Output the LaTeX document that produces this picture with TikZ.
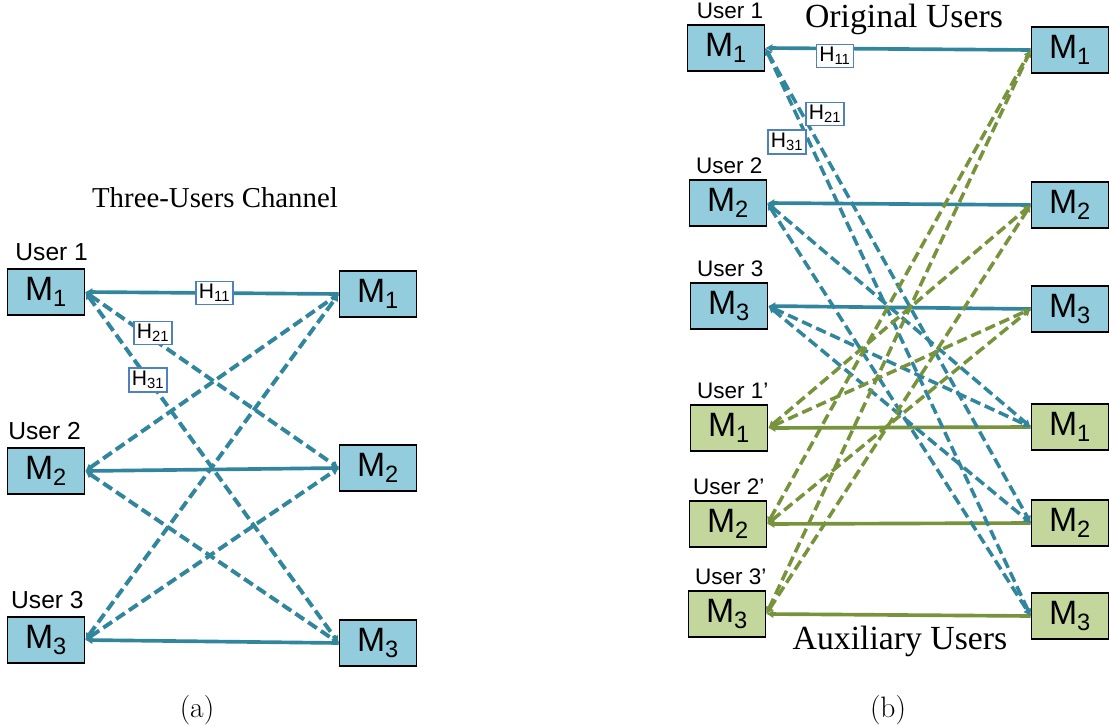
\documentclass[tikz,border=0pt]{standalone}
\usepackage{fontspec}
\newfontfamily\arialfont{Liberation Sans}
\newfontfamily\timesfont{Liberation Serif}
\usetikzlibrary{arrows.meta,positioning}
\definecolor{boxblue}{HTML}{93CDDD}
\definecolor{lineblue}{HTML}{31859C}
\definecolor{boxgreen}{HTML}{C3D69B}
\definecolor{linegreen}{HTML}{77933C}
\definecolor{labelblue}{HTML}{4F81BD}
\tikzset{
	msg/.style={draw=black, line width=1.1pt, minimum width=1.925cm, minimum height=1.15cm,
		inner sep=0pt, text=black, font=\arialfont\fontsize{24}{26}\selectfont},
	bluemsg/.style={msg, fill=boxblue},
	greenmsg/.style={msg, fill=boxgreen},
	usr/.style={anchor=south west, inner sep=0pt, font=\arialfont\fontsize{17.5}{19}\selectfont},
	usrb/.style={usr, font=\arialfont\fontsize{16}{18}\selectfont},
	gain/.style={draw=labelblue, line width=1pt, fill=white, inner sep=2pt, text=black,
		font=\arialfont\fontsize{15}{17}\selectfont},
	direct/.style={line width=2.6pt, {Latex[length=5pt,width=6pt]}-},
	cross/.style={line width=2.8pt, dash pattern=on 7.5pt off 3.5pt,
		{Latex[length=5pt,width=6pt]}-{Latex[length=5pt,width=6pt]}},
	crossb/.style={cross, line width=2.5pt},
	caption/.style={font=\timesfont\fontsize{24}{26}\selectfont},
	subcap/.style={font=\fontsize{21}{23}\selectfont},
}
\newcommand{\msub}[2]{#1\textsubscript{#2}}
\begin{document}
\begin{tikzpicture}[x=0.025cm,y=-0.025cm]
	\useasboundingbox (0,0) rectangle (1109,727);
%	\draw[gray!40] (0,0) grid[step=50] (1109,727);
	% (a) three users
	\node[caption, font=\timesfont\fontsize{20.5}{23}\selectfont] (title) at (215,198) {Three-Users Channel};
	\node[bluemsg] (a1) at (46,292) {\msub{M}{1}};
	\node[bluemsg] (a2) at (46,471) {\msub{M}{2}};
	\node[bluemsg] (a3) at (46,640) {\msub{M}{3}};
	\node[bluemsg] (b1) at (378,294) {\msub{M}{1}};
	\node[bluemsg] (b2) at (378,468) {\msub{M}{2}};
	\node[bluemsg] (b3) at (378,643) {\msub{M}{3}};
	\node[usr] (ua1) at ([xshift=6pt,yshift=5pt]a1.north west) {User 1};
	\node[usr] (ua2) at ([xshift=1pt,yshift=5pt]a2.north west) {User 2};
	\node[usr] (ua3) at ([xshift=3pt,yshift=5pt]a3.north west) {User 3};

	\draw[direct, lineblue] (a1.east) -- (b1.west) node[gain, pos=0.51] {\msub{H}{11}};
	\draw[direct, lineblue] (a2.east) -- (b2.west);
	\draw[direct, lineblue] (a3.east) -- (b3.west);
	\draw[cross, lineblue] (a1.east) -- (b2.west);
	\draw[cross, lineblue] (a1.east) -- (b3.west);
	\draw[cross, lineblue] (a2.east) -- (b1.west);
	\draw[cross, lineblue] (a2.east) -- (b3.west);
	\draw[cross, lineblue] (a3.east) -- (b1.west);
	\draw[cross, lineblue] (a3.east) -- (b2.west);
	\node[gain] (h21a) at (153,333) {\msub{H}{21}};
	\node[gain] (h31a) at (148,380) {\msub{H}{31}};
	\node[subcap] (capa) at (197,710) {(a)};

	% (b) original and auxiliary users
	\node[bluemsg] (l1) at (726,48) {\msub{M}{1}};
	\node[bluemsg] (l2) at (728,203) {\msub{M}{2}};
	\node[bluemsg] (l3) at (729,306) {\msub{M}{3}};
	\node[greenmsg] (m1) at (729,428) {\msub{M}{1}};
	\node[greenmsg] (m2) at (728,524) {\msub{M}{2}};
	\node[greenmsg] (m3) at (727,614) {\msub{M}{3}};
	\node[bluemsg] (r1) at (1070,50) {\msub{M}{1}};
	\node[bluemsg] (r2) at (1070,205) {\msub{M}{2}};
	\node[bluemsg] (r3) at (1070,309) {\msub{M}{3}};
	\node[greenmsg] (s1) at (1070,427) {\msub{M}{1}};
	\node[greenmsg] (s2) at (1070,523) {\msub{M}{2}};
	\node[greenmsg] (s3) at (1070,616) {\msub{M}{3}};
	\node[usrb] (ul1) at ([xshift=7pt,yshift=4pt]l1.north west) {User 1};
	\node[usrb] (ul2) at ([xshift=5pt,yshift=4pt]l2.north west) {User 2};
	\node[usrb] (ul3) at ([xshift=5pt,yshift=4pt]l3.north west) {User 3};
	\node[usrb] (um1) at ([xshift=5pt,yshift=4pt]m1.north west) {User 1’};
	\node[usrb] (um2) at ([xshift=3pt,yshift=4pt]m2.north west) {User 2’};
	\node[usrb] (um3) at ([xshift=5pt,yshift=4pt]m3.north west) {User 3’};
	\node[caption] (orig) at (904,19) {Original Users};
	\node[caption] (aux) at (900,641) {Auxiliary Users};

	\draw[direct, lineblue] (l1.east) -- (r1.west);
	\draw[direct, lineblue] (l2.east) -- (r2.west);
	\draw[direct, lineblue] (l3.east) -- (r3.west);
	\draw[direct, linegreen] (m1.east) -- (s1.west);
	\draw[direct, linegreen] (m2.east) -- (s2.west);
	\draw[direct, linegreen] (m3.east) -- (s3.west);
	\draw[crossb, lineblue] (l1.east) -- (s2.west);
	\draw[crossb, lineblue] (l1.east) -- (s3.west);
	\draw[crossb, lineblue] (l2.east) -- (s1.west);
	\draw[crossb, lineblue] (l2.east) -- (s3.west);
	\draw[crossb, lineblue] (l3.east) -- (s1.west);
	\draw[crossb, lineblue] (l3.east) -- (s2.west);
	\draw[crossb, linegreen] (m1.east) -- (r2.west);
	\draw[crossb, linegreen] (m1.east) -- (r3.west);
	\draw[crossb, linegreen] (m2.east) -- (r1.west);
	\draw[crossb, linegreen] (m2.east) -- (r3.west);
	\draw[crossb, linegreen] (m3.east) -- (r1.west);
	\draw[crossb, linegreen] (m3.east) -- (r2.west);
	\node[gain] (h11b) at (835,56) {\msub{H}{11}};
	\node[gain] (h21b) at (825,114) {\msub{H}{21}};
	\node[gain] (h31b) at (787,142) {\msub{H}{31}};
	\node[subcap] (capb) at (888,710) {(b)};
\end{tikzpicture}
\end{document}
